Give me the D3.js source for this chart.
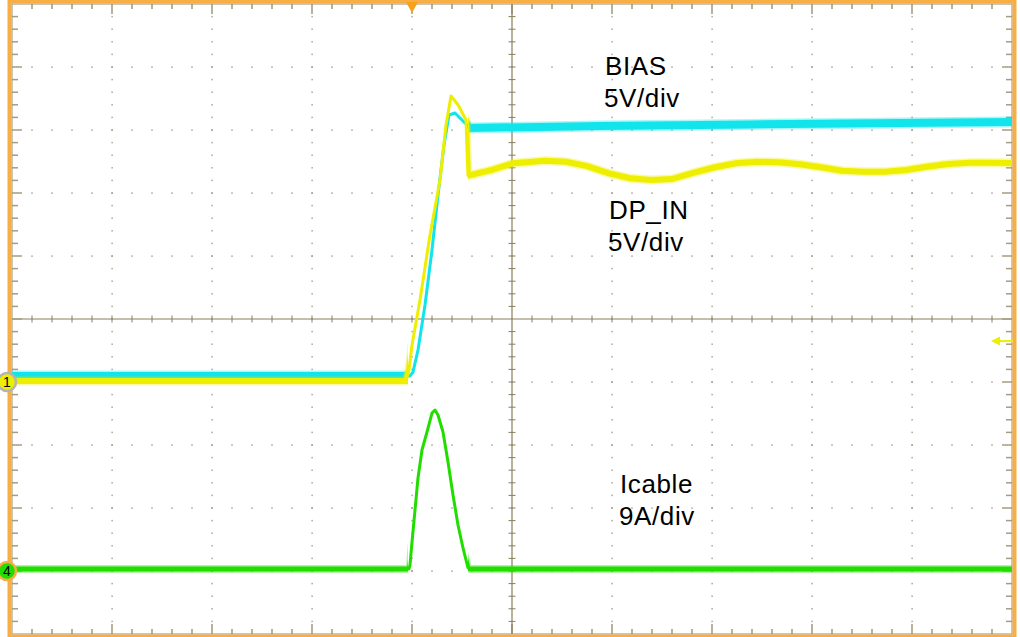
<!DOCTYPE html>
<html><head><meta charset="utf-8">
<script src="https://cdn.jsdelivr.net/npm/d3@7"></script>
<style>body{margin:0;background:#fff;} svg{display:block;}</style>
</head><body><svg id="c" width="1020" height="637"></svg>
<script>
// ---- data (time in divisions, trigger at -1 div) ----
const biasTime  = [-5.00,-1.02,-0.99,-0.94,-0.87,-0.80,-0.74,-0.68,-0.63,-0.57,-0.50,-0.45,-0.43,0.88,2.38,3.88,5.00];
const biasVolts = [0.48,0.48,0.79,2.54,6.11,10.48,14.84,18.81,21.19,21.35,20.79,20.40,20.16,20.32,20.44,20.56,20.63];

const dpinTime  = [-5.00,-1.06,-1.03,-1.00,-0.92,-0.82,-0.72,-0.66,-0.61,-0.54,-0.46,-0.45,-0.44,-0.20,0.01,0.33,0.54,0.75,0.97,1.18,1.39,1.60,1.82,2.03,2.24,2.45,2.67,2.88,3.09,3.30,3.52,3.73,3.94,4.15,4.36,4.58,4.79,5.00];
const dpinVolts = [0.08,0.08,0.95,2.94,6.51,11.67,16.03,20.40,22.70,22.00,20.80,18.40,16.37,16.83,17.36,17.56,17.48,17.14,16.56,16.17,16.03,16.11,16.61,17.04,17.36,17.48,17.44,17.28,17.04,16.77,16.69,16.69,16.83,17.09,17.30,17.40,17.40,17.38];

const icableTime = [-5.00,-1.03,-1.02,-1.00,-0.97,-0.94,-0.90,-0.85,-0.80,-0.77,-0.74,-0.69,-0.64,-0.59,-0.54,-0.49,-0.44,-0.42,5.00];
const icableAmps = [0.29,0.29,0.86,4.14,8.71,13.29,17.29,19.86,22.57,23.00,22.29,19.86,15.57,10.86,6.57,3.29,0.43,0.29,0.29];

const traceNames  = ["BIAS","DP_IN","Icable"];
const traceScales = ["5V/div","5V/div","9A/div"];
const chPerDiv    = [5,5,9];      // units per division
const chOffsetDiv = [-1,-1,-4];   // ground level in divisions
const triggerTime = -1;           // div
const triggerLevel = 3.25;        // V on DP_IN

// ---- layout ----
const L = 12, R = 1012, T = 4, B = 634;
const svg = d3.select("#c");
const x = d3.scaleLinear().domain([-5,5]).range([L,R]);
const yd = d3.scaleLinear().domain([-5,5]).range([B,T]);
const chY = (i,v) => yd(chOffsetDiv[i] + v/chPerDiv[i]);

const gridCol = "#8b7d5c", dotCol = "#9a9078", orange = "#f7ae45";
const majors = d3.range(-5,5.001,1);
const minorsX = d3.range(-5,5.001,0.2).map(v=>+v.toFixed(2));
const minorsY = minorsX;
const isMajor = v => Math.abs(v-Math.round(v))<1e-6;

svg.append("rect").attr("x",0).attr("y",0).attr("width",1020).attr("height",637).attr("fill","#fff");

// dotted grid
const g = svg.append("g");
majors.filter(m=>Math.abs(m)<5 && m!==0).forEach(m=>{
  minorsY.filter(v=>Math.abs(v)<5).forEach(v=>{
    g.append("rect").attr("x",x(m)-0.5).attr("y",yd(v)-0.75).attr("width",1.2).attr("height",1.5).attr("fill",dotCol);
  });
  minorsX.filter(v=>Math.abs(v)<5).forEach(v=>{
    g.append("rect").attr("x",x(v)-0.75).attr("y",yd(m)-0.5).attr("width",1.5).attr("height",1.2).attr("fill",dotCol);
  });
});
// centre axes
g.append("line").attr("x1",x(0)).attr("x2",x(0)).attr("y1",T).attr("y2",B).attr("stroke",gridCol).attr("stroke-width",1.2);
g.append("line").attr("x1",L).attr("x2",R).attr("y1",yd(0)).attr("y2",yd(0)).attr("stroke",gridCol).attr("stroke-width",1.2);
minorsX.filter(v=>Math.abs(v)<5 && v!==0).forEach(v=>{
  g.append("line").attr("x1",x(v)).attr("x2",x(v)).attr("y1",yd(0)-3.5).attr("y2",yd(0)+3.5).attr("stroke",gridCol);
});
minorsY.filter(v=>Math.abs(v)<5 && v!==0).forEach(v=>{
  g.append("line").attr("y1",yd(v)).attr("y2",yd(v)).attr("x1",x(0)-3.5).attr("x2",x(0)+3.5).attr("stroke",gridCol);
});
// edge ticks
minorsX.filter(v=>Math.abs(v)<5).forEach(v=>{
  const len = isMajor(v)?10:5;
  g.append("line").attr("x1",x(v)).attr("x2",x(v)).attr("y1",T).attr("y2",T+len).attr("stroke",gridCol).attr("stroke-width",1.2);
  g.append("line").attr("x1",x(v)).attr("x2",x(v)).attr("y1",B).attr("y2",B-len).attr("stroke",gridCol).attr("stroke-width",1.2);
});
minorsY.filter(v=>Math.abs(v)<5).forEach(v=>{
  const len = isMajor(v)?10:6;
  g.append("line").attr("y1",yd(v)).attr("y2",yd(v)).attr("x1",L).attr("x2",L+len).attr("stroke","#a89c80").attr("stroke-width",1.5);
  g.append("line").attr("y1",yd(v)).attr("y2",yd(v)).attr("x1",R).attr("x2",R-len).attr("stroke","#a89c80").attr("stroke-width",1.5);
});

// frame
svg.append("rect").attr("x",L).attr("y",T).attr("width",R-L).attr("height",B-T).attr("fill","none").attr("stroke","#9a8f74").attr("stroke-width",1);
svg.append("rect").attr("x",L-2.5).attr("y",T-2.5).attr("width",R-L+5).attr("height",B-T+5).attr("fill","none").attr("stroke",orange).attr("stroke-width",4);

// clip regions for noisy flat parts
const defs = svg.append("defs");
const cp = defs.append("clipPath").attr("id","flat");
cp.append("rect").attr("x",L).attr("y",0).attr("width",x(-1.04)-L).attr("height",637);
cp.append("rect").attr("x",x(-0.44)).attr("y",0).attr("width",R-x(-0.44)).attr("height",637);
const plotClip = defs.append("clipPath").attr("id","plot");
plotClip.append("rect").attr("x",L).attr("y",T).attr("width",R-L).attr("height",B-T);

function drawTrace(times, vals, ch, color, thick){
  const pts = times.map((t,i)=>[x(t), chY(ch, vals[i])]);
  const line = d3.line();
  const gg = svg.append("g").attr("clip-path","url(#plot)");
  gg.append("path").attr("d",line(pts)).attr("fill","none").attr("stroke",color).attr("stroke-width",thick+3).attr("clip-path","url(#flat)").attr("opacity",0.35);
  gg.append("path").attr("d",line(pts)).attr("fill","none").attr("stroke",color).attr("stroke-width",3).attr("stroke-linejoin","round");
  gg.append("path").attr("d",line(pts)).attr("fill","none").attr("stroke",color).attr("stroke-width",thick).attr("clip-path","url(#flat)");
}
drawTrace(icableTime, icableAmps, 2, "#22dd00", 5);
drawTrace(biasTime, biasVolts, 0, "#12e4ec", 8);
drawTrace(dpinTime, dpinVolts, 1, "#eeee00", 6);

// trigger position marker
const tx = x(triggerTime);
svg.append("path").attr("d",`M${tx-6},2 L${tx+6},2 L${tx},13 Z`).attr("fill","#f7a21b");
// trigger level arrow
const ty = chY(1, triggerLevel);
svg.append("line").attr("x1",R+1).attr("x2",R-14).attr("y1",ty).attr("y2",ty).attr("stroke","#eeee00").attr("stroke-width",2);
svg.append("path").attr("d",`M${R-21},${ty} L${R-12},${ty-4.5} L${R-12},${ty+4.5} Z`).attr("fill","#eeee00");

// channel ground markers
function marker(ch, label, ring, fill){
  const cy = chY(ch, 0);
  svg.append("circle").attr("cx",7).attr("cy",cy).attr("r",9).attr("fill",fill).attr("stroke",ring).attr("stroke-width",2.5);
  svg.append("text").attr("x",7).attr("y",cy+5).attr("text-anchor","middle").attr("font-family","Liberation Sans, Arial, sans-serif").attr("font-size",14).attr("fill","#000").text(label);
}
marker(1, "1", "#b4b4b4", "#eeee00");
marker(2, "4", orange, "#22dd00");

// labels
const labelPos = [[0.93, 3.87],[0.97, 1.59],[1.08,-2.76]]; // [time div, y div] of first baseline
const font = "Liberation Sans, Arial, sans-serif";
traceNames.forEach((n,i)=>{
  const lx = x(labelPos[i][0]), ly = yd(labelPos[i][1]);
  svg.append("text").attr("x",lx).attr("y",ly).attr("font-family",font).attr("font-size",26).attr("letter-spacing",0.6).attr("fill","#000").text(n);
  svg.append("text").attr("x",lx-1).attr("y",ly+32).attr("font-family",font).attr("font-size",26).attr("letter-spacing",0.6).attr("fill","#000").text(traceScales[i]);
});
</script></body></html>
